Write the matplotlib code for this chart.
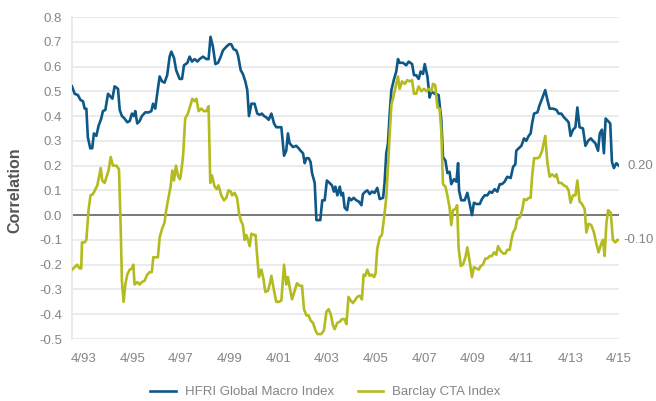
import matplotlib
matplotlib.use('Agg')
import matplotlib.pyplot as plt

# ── Data (x = decimal year) ───────────────────────────────────────────────────

HFRI_YEARS = [
    1992.78, 1992.89, 1993.02, 1993.13, 1993.23, 1993.30, 1993.37, 1993.43, 1993.53, 1993.61,
    1993.68, 1993.78, 1993.87, 1993.98, 1994.05, 1994.15, 1994.26, 1994.35, 1994.44, 1994.53,
    1994.67, 1994.74, 1994.83, 1994.94, 1995.05, 1995.15, 1995.24, 1995.32, 1995.38, 1995.46,
    1995.56, 1995.65, 1995.79, 1995.93, 1996.04, 1996.11, 1996.20, 1996.28, 1996.38, 1996.48,
    1996.58, 1996.69, 1996.79, 1996.86, 1996.97, 1997.06, 1997.20, 1997.30, 1997.38, 1997.52,
    1997.61, 1997.71, 1997.82, 1997.93, 1998.02, 1998.16, 1998.30, 1998.39, 1998.47, 1998.57,
    1998.67, 1998.78, 1998.89, 1998.98, 1999.12, 1999.23, 1999.32, 1999.42, 1999.53, 1999.60,
    1999.71, 1999.80, 1999.90, 1999.98, 2000.05, 2000.15, 2000.28, 2000.39, 2000.49, 2000.58,
    2000.67, 2000.76, 2000.86, 2000.97, 2001.08, 2001.17, 2001.38, 2001.49, 2001.58, 2001.65,
    2001.72, 2001.86, 2001.99, 2002.09, 2002.17, 2002.27, 2002.34, 2002.41, 2002.50, 2002.58,
    2002.64, 2002.75, 2002.82, 2002.98, 2003.06, 2003.16, 2003.25, 2003.36, 2003.46, 2003.54,
    2003.60, 2003.68, 2003.78, 2003.84, 2003.91, 2003.98, 2004.08, 2004.16, 2004.25, 2004.35,
    2004.46, 2004.56, 2004.67, 2004.73, 2004.83, 2004.91, 2005.01, 2005.10, 2005.21, 2005.32,
    2005.42, 2005.56, 2005.62, 2005.69, 2005.76, 2005.83, 2005.90, 2006.01, 2006.10, 2006.17,
    2006.24, 2006.38, 2006.51, 2006.61, 2006.75, 2006.83, 2006.92, 2007.02, 2007.10, 2007.20,
    2007.27, 2007.38, 2007.47, 2007.54, 2007.68, 2007.84, 2007.95, 2008.02, 2008.12, 2008.20,
    2008.29, 2008.36, 2008.47, 2008.57, 2008.64, 2008.68, 2008.77, 2008.91, 2009.02, 2009.12,
    2009.21, 2009.29, 2009.39, 2009.53, 2009.62, 2009.73, 2009.84, 2009.94, 2010.03, 2010.14,
    2010.25, 2010.35, 2010.44, 2010.55, 2010.66, 2010.80, 2010.90, 2010.99, 2011.03, 2011.13,
    2011.24, 2011.35, 2011.44, 2011.54, 2011.62, 2011.68, 2011.76, 2011.90, 2011.99, 2012.09,
    2012.22, 2012.31, 2012.40, 2012.54, 2012.68, 2012.77, 2012.88, 2012.99, 2013.09, 2013.18,
    2013.26, 2013.36, 2013.46, 2013.54, 2013.63, 2013.77, 2013.87, 2013.98, 2014.09, 2014.18,
    2014.28, 2014.39, 2014.46, 2014.55, 2014.63, 2014.70, 2014.80, 2014.89, 2014.96, 2015.04,
    2015.14, 2015.24,
]
HFRI_CORR = [
    0.52, 0.49, 0.485, 0.465, 0.46, 0.43, 0.43, 0.315, 0.27, 0.27,
    0.33, 0.32, 0.36, 0.39, 0.42, 0.425, 0.49, 0.48, 0.47, 0.52,
    0.51, 0.425, 0.40, 0.39, 0.375, 0.38, 0.41, 0.40, 0.42, 0.37,
    0.38, 0.40, 0.415, 0.415, 0.42, 0.45, 0.43, 0.49, 0.56, 0.54,
    0.535, 0.565, 0.64, 0.66, 0.635, 0.585, 0.55, 0.55, 0.605, 0.615,
    0.64, 0.62, 0.63, 0.62, 0.63, 0.64, 0.63, 0.63, 0.72, 0.68,
    0.61, 0.615, 0.64, 0.665, 0.68, 0.69, 0.69, 0.67, 0.665, 0.645,
    0.585, 0.57, 0.54, 0.505, 0.40, 0.45, 0.45, 0.41, 0.405, 0.41,
    0.40, 0.395, 0.385, 0.41, 0.37, 0.355, 0.355, 0.24, 0.26, 0.33,
    0.29, 0.275, 0.28, 0.27, 0.26, 0.25, 0.21, 0.23, 0.23, 0.215,
    0.17, 0.13, -0.02, -0.02, 0.06, 0.06, 0.14, 0.13, 0.12, 0.095,
    0.115, 0.08, 0.115, 0.08, 0.09, 0.03, 0.02, 0.07, 0.06, 0.07,
    0.06, 0.055, 0.04, 0.085, 0.095, 0.10, 0.085, 0.095, 0.09, 0.11,
    0.065, 0.07, 0.13, 0.25, 0.29, 0.41, 0.505, 0.55, 0.58, 0.63,
    0.615, 0.615, 0.605, 0.62, 0.61, 0.565, 0.565, 0.55, 0.58, 0.57,
    0.61, 0.56, 0.475, 0.50, 0.49, 0.485, 0.385, 0.235, 0.22, 0.17,
    0.175, 0.125, 0.145, 0.135, 0.21, 0.10, 0.06, 0.06, 0.09, 0.045,
    0.0, 0.05, 0.045, 0.045, 0.065, 0.08, 0.08, 0.095, 0.09, 0.105,
    0.095, 0.125, 0.125, 0.135, 0.155, 0.15, 0.195, 0.205, 0.26, 0.27,
    0.28, 0.31, 0.30, 0.32, 0.33, 0.37, 0.41, 0.415, 0.445, 0.47,
    0.505, 0.465, 0.43, 0.43, 0.425, 0.41, 0.41, 0.395, 0.385, 0.375,
    0.32, 0.345, 0.355, 0.435, 0.355, 0.35, 0.28, 0.30, 0.31, 0.30,
    0.29, 0.26, 0.33, 0.345, 0.25, 0.39, 0.38, 0.37, 0.215, 0.19,
    0.21, 0.20,
]

CTA_YEARS = [
    1992.78, 1992.89, 1993.00, 1993.09, 1993.16, 1993.19, 1993.30, 1993.37, 1993.46, 1993.54,
    1993.64, 1993.74, 1993.82, 1993.91, 1993.96, 1994.02, 1994.12, 1994.23, 1994.28, 1994.37,
    1994.46, 1994.60, 1994.71, 1994.78, 1994.83, 1994.90, 1994.97, 1995.05, 1995.15, 1995.24,
    1995.30, 1995.35, 1995.46, 1995.56, 1995.65, 1995.76, 1995.87, 1995.97, 1996.06, 1996.12,
    1996.24, 1996.31, 1996.38, 1996.48, 1996.58, 1996.65, 1996.75, 1996.83, 1996.90, 1996.97,
    1997.05, 1997.13, 1997.21, 1997.24, 1997.34, 1997.43, 1997.54, 1997.65, 1997.72, 1997.82,
    1997.89, 1997.98, 1998.09, 1998.20, 1998.30, 1998.39, 1998.46, 1998.53, 1998.64, 1998.73,
    1998.80, 1998.91, 1999.02, 1999.12, 1999.21, 1999.30, 1999.36, 1999.46, 1999.56, 1999.64,
    1999.71, 1999.80, 1999.87, 1999.94, 2000.01, 2000.08, 2000.15, 2000.25, 2000.32, 2000.39,
    2000.46, 2000.56, 2000.65, 2000.72, 2000.83, 2000.90, 2000.97, 2001.08, 2001.17, 2001.27,
    2001.38, 2001.49, 2001.58, 2001.65, 2001.72, 2001.82, 2001.93, 2002.02, 2002.13, 2002.23,
    2002.31, 2002.41, 2002.50, 2002.58, 2002.68, 2002.78, 2002.86, 2003.02, 2003.13, 2003.23,
    2003.32, 2003.41, 2003.50, 2003.57, 2003.68, 2003.78, 2003.87, 2003.98, 2004.05, 2004.14,
    2004.23, 2004.32, 2004.39, 2004.50, 2004.60, 2004.69, 2004.76, 2004.83, 2004.91, 2005.01,
    2005.10, 2005.19, 2005.25, 2005.32, 2005.42, 2005.51, 2005.60, 2005.69, 2005.76, 2005.83,
    2005.90, 2006.01, 2006.10, 2006.17, 2006.24, 2006.34, 2006.45, 2006.55, 2006.65, 2006.75,
    2006.83, 2006.92, 2007.02, 2007.13, 2007.24, 2007.34, 2007.43, 2007.54, 2007.61, 2007.70,
    2007.79, 2007.88, 2007.95, 2008.02, 2008.12, 2008.20, 2008.29, 2008.36, 2008.43, 2008.53,
    2008.60, 2008.66, 2008.75, 2008.84, 2008.94, 2009.02, 2009.12, 2009.21, 2009.29, 2009.39,
    2009.49, 2009.57, 2009.66, 2009.76, 2009.84, 2009.94, 2010.03, 2010.12, 2010.21, 2010.28,
    2010.39, 2010.49, 2010.58, 2010.66, 2010.76, 2010.83, 2010.90, 2010.99, 2011.07, 2011.17,
    2011.27, 2011.35, 2011.44, 2011.54, 2011.62, 2011.68, 2011.76, 2011.90, 2011.99, 2012.09,
    2012.22, 2012.31, 2012.40, 2012.50, 2012.61, 2012.68, 2012.77, 2012.88, 2012.99, 2013.09,
    2013.18, 2013.26, 2013.36, 2013.46, 2013.54, 2013.63, 2013.73, 2013.84, 2013.91, 2014.00,
    2014.11, 2014.22, 2014.32, 2014.41, 2014.52, 2014.59, 2014.66, 2014.73, 2014.80, 2014.91,
    2015.00, 2015.10, 2015.18, 2015.24,
]
CTA_CORR = [
    -0.22, -0.21, -0.20, -0.215, -0.215, -0.11, -0.11, -0.10, 0.02, 0.08,
    0.085, 0.105, 0.12, 0.165, 0.19, 0.14, 0.13, 0.165, 0.18, 0.235,
    0.20, 0.20, 0.185, -0.05, -0.265, -0.35, -0.28, -0.24, -0.22, -0.215,
    -0.20, -0.28, -0.27, -0.28, -0.27, -0.265, -0.24, -0.23, -0.23, -0.17,
    -0.17, -0.17, -0.09, -0.055, -0.03, 0.02, 0.075, 0.115, 0.18, 0.14,
    0.20, 0.16, 0.145, 0.155, 0.235, 0.39, 0.41, 0.445, 0.47, 0.46,
    0.47, 0.42, 0.43, 0.42, 0.42, 0.44, 0.13, 0.16, 0.115, 0.105,
    0.12, 0.08, 0.06, 0.07, 0.10, 0.095, 0.08, 0.09, 0.07, 0.01,
    -0.02, -0.04, -0.10, -0.08, -0.10, -0.125, -0.075, -0.08, -0.08, -0.17,
    -0.25, -0.22, -0.26, -0.31, -0.305, -0.28, -0.245, -0.305, -0.35, -0.35,
    -0.345, -0.20, -0.28, -0.25, -0.29, -0.34, -0.305, -0.275, -0.285, -0.285,
    -0.38, -0.405, -0.405, -0.425, -0.435, -0.465, -0.48, -0.48, -0.465, -0.39,
    -0.38, -0.40, -0.445, -0.46, -0.435, -0.43, -0.42, -0.42, -0.44, -0.33,
    -0.345, -0.355, -0.345, -0.33, -0.325, -0.34, -0.24, -0.245, -0.22, -0.245,
    -0.24, -0.25, -0.235, -0.135, -0.09, -0.08, -0.01, 0.07, 0.195, 0.33,
    0.445, 0.49, 0.53, 0.56, 0.51, 0.54, 0.53, 0.545, 0.54, 0.545,
    0.49, 0.49, 0.52, 0.50, 0.51, 0.50, 0.51, 0.50, 0.53, 0.525,
    0.435, 0.43, 0.34, 0.125, 0.115, 0.08, 0.03, -0.04, 0.02, 0.025,
    0.04, -0.13, -0.205, -0.20, -0.17, -0.13, -0.19, -0.25, -0.21, -0.215,
    -0.22, -0.205, -0.20, -0.175, -0.175, -0.165, -0.165, -0.15, -0.16, -0.125,
    -0.145, -0.155, -0.155, -0.14, -0.14, -0.10, -0.07, -0.055, -0.015, -0.01,
    0.02, 0.065, 0.06, 0.07, 0.07, 0.155, 0.23, 0.23, 0.235, 0.26,
    0.32, 0.21, 0.155, 0.165, 0.155, 0.165, 0.13, 0.13, 0.12, 0.115,
    0.10, 0.05, 0.08, 0.08, 0.14, 0.055, 0.045, 0.025, -0.07, -0.035,
    -0.04, -0.07, -0.115, -0.15, -0.115, -0.10, -0.165, -0.035, 0.02, 0.01,
    -0.10, -0.11, -0.10, -0.10,
]

SERIES_LABELS = ['HFRI Global Macro Index', 'Barclay CTA Index']
TICK_YEARS = [1993, 1995, 1997, 1999, 2001, 2003, 2005, 2007, 2009, 2011, 2013, 2015]
Y_TICKS = [-0.5, -0.4, -0.3, -0.2, -0.1, 0.0, 0.1, 0.2, 0.3, 0.4, 0.5, 0.6, 0.7, 0.8]

# ── Style ─────────────────────────────────────────────────────────────────────

BLUE = '#0e5888'
GREEN = '#b3bb1e'
TEXT_GREY = '#858585'
GRID_GREY = '#e9e9e9'
ZERO_GREY = '#6e6e6e'

plt.rcParams['font.family'] = ['Liberation Sans', 'DejaVu Sans']
plt.rcParams['axes.unicode_minus'] = False

fig = plt.figure(figsize=(6.56, 4.01), dpi=100)
ax = fig.add_axes([72 / 656, 1 - 339 / 401, 547 / 656, 322 / 401])

for y in Y_TICKS:
    if y != 0.0:
        ax.axhline(y, color=GRID_GREY, lw=1.3, zorder=0)
ax.axhline(0.0, color=ZERO_GREY, lw=1.3, zorder=1)

ax.plot(HFRI_YEARS, HFRI_CORR, color=BLUE, lw=1.9, label=SERIES_LABELS[0], zorder=3)
ax.plot(CTA_YEARS, CTA_CORR, color=GREEN, lw=1.9, label=SERIES_LABELS[1], zorder=3)

# end-of-line value labels
for xs, ys in ((HFRI_YEARS, HFRI_CORR), (CTA_YEARS, CTA_CORR)):
    ax.annotate(f'{ys[-1]:.2f}', xy=(xs[-1], ys[-1]), xytext=(25, 0),
                textcoords='offset points', ha='right', va='center',
                fontsize=9.5, color=TEXT_GREY, annotation_clip=False)

ax.set_xlim(HFRI_YEARS[0], 2015.25)
ax.set_ylim(-0.5, 0.8)
ax.set_yticks(Y_TICKS)
ax.set_yticklabels([f'{y:.1f}' for y in Y_TICKS])
ax.set_xticks([yr + 0.25 for yr in TICK_YEARS])
ax.set_xticklabels([f'4/{yr % 100:02d}' for yr in TICK_YEARS])
ax.tick_params(axis='both', length=0, labelsize=9.5, colors=TEXT_GREY)
ax.tick_params(axis='y', pad=7)
ax.tick_params(axis='x', pad=10)

for side in ('top', 'right', 'bottom'):
    ax.spines[side].set_visible(False)
ax.spines['left'].set_color(GRID_GREY)
ax.spines['left'].set_linewidth(1.3)

fig.text(15 / 656, 1 - 190 / 401, 'Correlation', rotation=90, ha='center', va='center',
         fontsize=11.5, fontweight='bold', color='#555555')

fig.legend(loc='center', bbox_to_anchor=(0.496, 1 - 392 / 401), ncol=2, frameon=False,
           fontsize=9.5, labelcolor=TEXT_GREY, handlelength=1.9, handletextpad=0.7,
           columnspacing=1.8)

fig.savefig('out.png', dpi=100)
